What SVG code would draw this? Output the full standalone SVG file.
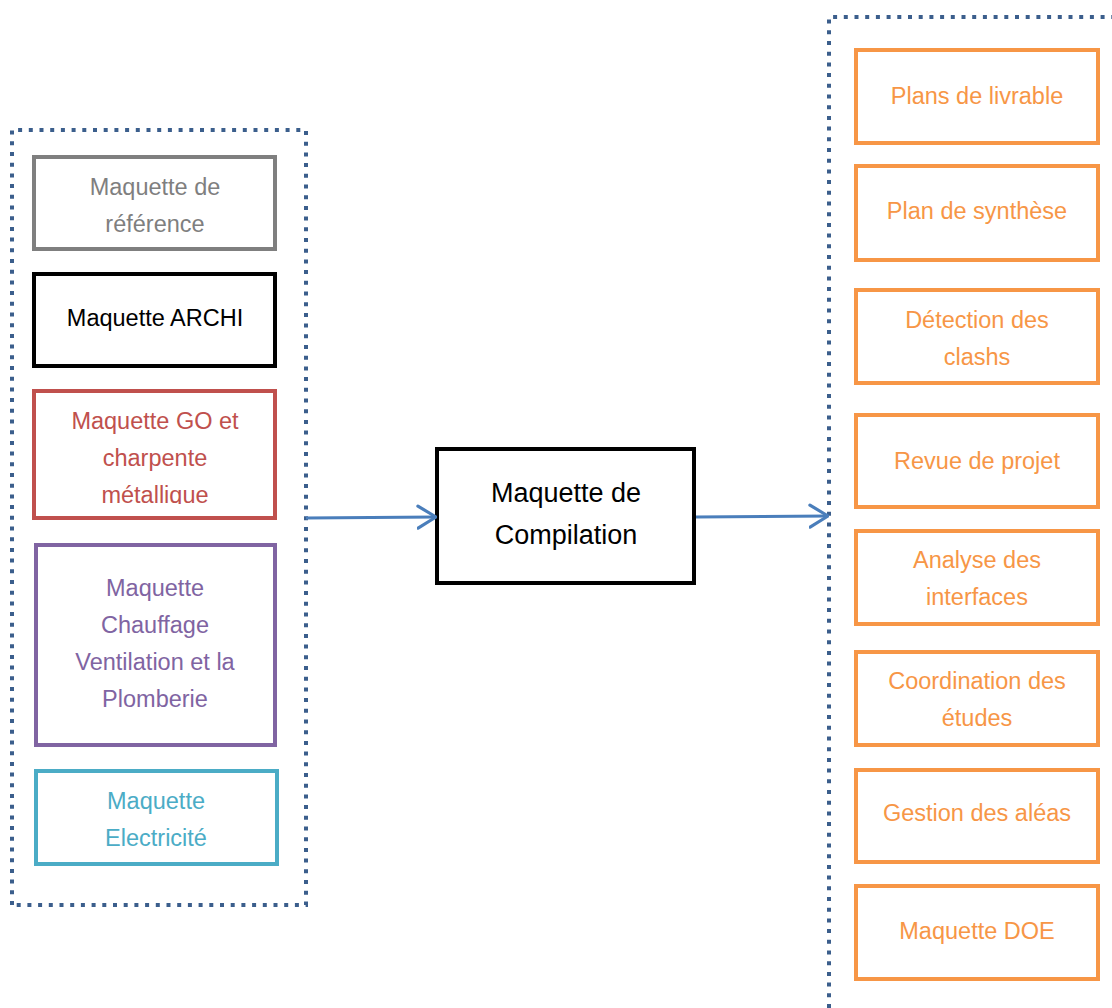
<svg xmlns="http://www.w3.org/2000/svg" width="1112" height="1008" viewBox="0 0 1112 1008">
<style>
text{font-family:"Liberation Sans",Arial,sans-serif;font-size:23.5px;text-anchor:middle}
.box{fill:#fff;stroke-width:4}
.grp{fill:none;stroke:#3B5E8C;stroke-width:4;stroke-dasharray:4 6.7}
.org rect{stroke:#F79646}
.org text{fill:#F79646}
.conn{fill:none;stroke:#4A7EBB;stroke-width:3}
</style>
<defs>
<marker id="arr" viewBox="0 0 21 26" refX="19.5" refY="13" markerWidth="21" markerHeight="26" markerUnits="userSpaceOnUse" orient="auto">
<path d="M1.5,2 L19.5,13 L1.5,24" fill="none" stroke="#4A7EBB" stroke-width="3.2" stroke-linecap="round" stroke-linejoin="round"/>
</marker>
<clipPath id="goclip"><rect x="36" y="393" width="237" height="111"/></clipPath>
</defs>
<rect width="1112" height="1008" fill="#fff"/>
<g id="group-left"><path class="grp" d="M12,905 L12,130 L306,130 L306,905 Z"/></g>
<g id="group-right"><path class="grp" d="M829,1008 L829,17 L1112,17"/></g>

<g id="n-reference"><rect class="box" x="34" y="157" width="241" height="92" stroke="#7F7F7F"/>
<text fill="#7F7F7F" x="155" y="195">Maquette de</text><text fill="#7F7F7F" x="155" y="232">référence</text></g>
<g id="n-archi"><rect class="box" x="34" y="274" width="241" height="92" stroke="#000"/>
<text fill="#000" x="155" y="326">Maquette ARCHI</text></g>
<g id="n-go"><rect class="box" x="34" y="391" width="241" height="127" stroke="#C0504D"/>
<g clip-path="url(#goclip)" fill="#C0504D"><text x="155" y="429">Maquette GO et</text><text x="155" y="466">charpente</text><text x="155" y="503">métallique</text></g></g>
<g id="n-cvc"><rect class="box" x="36" y="545" width="239" height="200" stroke="#8064A2"/>
<g fill="#8064A2"><text x="155" y="596">Maquette</text><text x="155" y="633">Chauffage</text><text x="155" y="670">Ventilation et la</text><text x="155" y="707">Plomberie</text></g></g>
<g id="n-elec"><rect class="box" x="36" y="771" width="241" height="93" stroke="#4BACC6"/>
<g fill="#4BACC6"><text x="156" y="809">Maquette</text><text x="156" y="846">Electricité</text></g></g>

<g id="n-compilation"><rect class="box" x="437" y="449" width="257" height="134" stroke="#000" stroke-width="4.5"/>
<text fill="#000" x="566" y="502" style="font-size:27px">Maquette de</text><text fill="#000" x="566" y="544" style="font-size:27px">Compilation</text></g>

<g class="org">
<g id="n-plans"><rect class="box" x="856" y="50" width="242" height="93"/><text x="977" y="104">Plans de livrable</text></g>
<g id="n-synthese"><rect class="box" x="856" y="166" width="242" height="94"/><text x="977" y="219">Plan de synthèse</text></g>
<g id="n-clashs"><rect class="box" x="856" y="290" width="242" height="93"/><text x="977" y="328">Détection des</text><text x="977" y="365">clashs</text></g>
<g id="n-revue"><rect class="box" x="856" y="415" width="242" height="92"/><text x="977" y="469">Revue de projet</text></g>
<g id="n-interfaces"><rect class="box" x="856" y="531" width="242" height="93"/><text x="977" y="568">Analyse des</text><text x="977" y="605">interfaces</text></g>
<g id="n-coordination"><rect class="box" x="856" y="652" width="242" height="93"/><text x="977" y="689">Coordination des</text><text x="977" y="726">études</text></g>
<g id="n-aleas"><rect class="box" x="856" y="770" width="242" height="92"/><text x="977" y="821">Gestion des aléas</text></g>
<g id="n-doe"><rect class="box" x="856" y="886" width="242" height="93"/><text x="977" y="939">Maquette DOE</text></g>
</g>

<g id="connectors">
<path class="conn" d="M306,518 L436,517" marker-end="url(#arr)"/>
<path class="conn" d="M696,517 L828,516" marker-end="url(#arr)"/>
</g>
</svg>
